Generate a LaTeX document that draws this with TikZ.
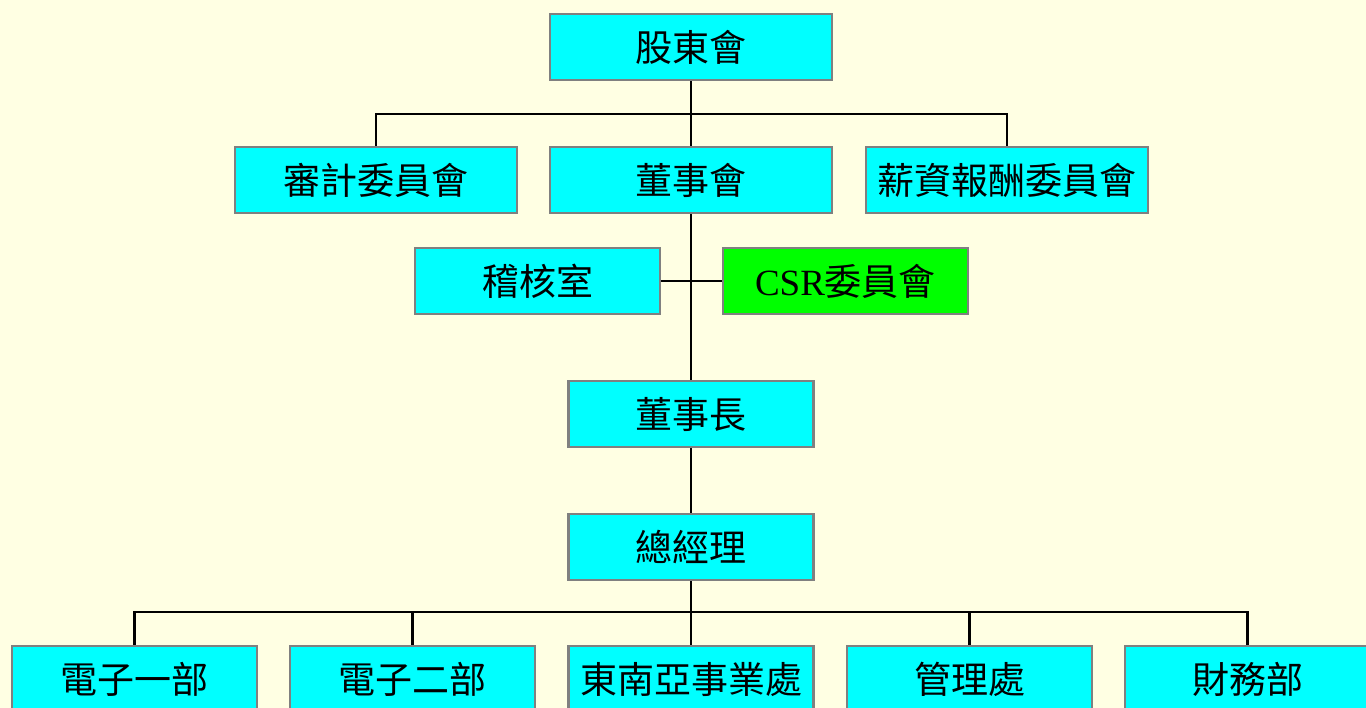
\documentclass[tikz,border=0pt]{standalone}
\usepackage{fontspec}
\setmainfont{Liberation Serif}
\newfontfamily\cjk{Noto Sans CJK TC}
\definecolor{bgc}{HTML}{FFFFE3}
\definecolor{boxc}{HTML}{00FFFF}
\definecolor{csrc}{HTML}{00FF00}
\definecolor{edgec}{HTML}{808080}
\begin{document}
\begin{tikzpicture}[x=1pt,y=-1pt,
  orgbox/.style={draw=edgec,line width=2.5pt,fill=boxc,rectangle,minimum height=66pt,inner sep=0pt,font=\fontsize{37}{42}\selectfont\cjk},
  wbox/.style={orgbox,minimum width=282pt},
  nbox/.style={orgbox,minimum width=245pt},
  link/.style={line width=2.8pt,black}]
\useasboundingbox (0,0) rectangle (1366,708);
\clip (0,0) rectangle (1366,708);
\fill[bgc] (0,0) rectangle (1366,708);
\node[wbox] (sh) at (691,47) {股東會};
\node[wbox] (audit) at (376,180) {審計委員會};
\node[wbox] (board) at (691,180) {董事會};
\node[wbox] (pay) at (1007,180) {薪資報酬委員會};
\node[nbox] (aroom) at (537.5,281) {稽核室};
\node[nbox,fill=csrc] (csr) at (845.5,281) {{\rmfamily CSR}委員會};
\node[nbox] (chair) at (691,414) {董事長};
\node[nbox] (gm) at (691,547) {總經理};
\node[nbox] (e1) at (134.5,679) {電子一部};
\node[nbox] (e2) at (412.5,679) {電子二部};
\node[nbox] (sea) at (691,679) {東南亞事業處};
\node[nbox] (mgmt) at (969.5,679) {管理處};
\node[nbox] (fin) at (1247.5,679) {財務部};
\coordinate (j1) at (691,114);
\coordinate (j2) at (691,612);
\draw[link] (sh.south) -- (j1);
\draw[link] (audit.north) |- (j1) -| (pay.north);
\draw[link] (j1) -- (board.north);
\draw[link] (board.south) -- (chair.north);
\draw[link] (aroom.east) -- (csr.west);
\draw[link] (chair.south) -- (gm.north);
\draw[link] (gm.south) -- (j2);
\draw[link] (e1.north) |- (j2) -| (fin.north);
\draw[link] (e2.north) |- (j2);
\draw[link] (mgmt.north) |- (j2);
\draw[link] (j2) -- (sea.north);
\end{tikzpicture}
\end{document}
